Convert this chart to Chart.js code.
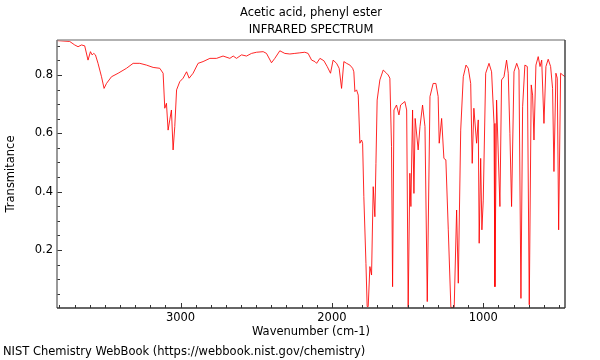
<!DOCTYPE html>
<html>
<head>
<meta charset="utf-8">
<script src="https://cdn.jsdelivr.net/npm/chart.js@4/dist/chart.umd.min.js"></script>
<style>
html,body{margin:0;padding:0;background:#fff;}
#c{display:block;}
</style>
</head>
<body>
<canvas id="c" width="600" height="360"></canvas>
<script>
const wavenumbers = [3816, 3732, 3699, 3677, 3654, 3633, 3611, 3595, 3584, 3573,
  3562, 3545, 3522, 3505, 3489, 3456, 3412, 3357, 3313, 3269,
  3225, 3181, 3137, 3115, 3104, 3093, 3082, 3071, 3060, 3049,
  3038, 3026, 3005, 2983, 2960, 2943, 2917, 2884, 2851, 2806,
  2762, 2719, 2674, 2652, 2630, 2597, 2564, 2531, 2498, 2454,
  2432, 2399, 2377, 2344, 2311, 2278, 2245, 2212, 2179, 2157,
  2134, 2112, 2101, 2079, 2053, 2031, 2009, 1992, 1969, 1952,
  1936, 1921, 1903, 1881, 1863, 1855, 1848, 1837, 1826, 1815,
  1804, 1797, 1789, 1775, 1767, 1760, 1749, 1738, 1727, 1716,
  1709, 1701, 1683, 1661, 1639, 1628, 1617, 1606, 1599, 1590,
  1573, 1557, 1546, 1518, 1506, 1496, 1485, 1478, 1467, 1458,
  1450, 1430, 1418, 1401, 1385, 1370, 1352, 1331, 1313, 1298,
  1291, 1275, 1260, 1247, 1231, 1214, 1192, 1176, 1165, 1149,
  1132, 1114, 1099, 1083, 1073, 1062, 1044, 1033, 1027, 1017,
  1009, 1000, 984, 962, 945, 929, 923, 912, 890, 879,
  863, 846, 835, 824, 813, 797, 779, 764, 751, 740,
  725, 709, 696, 683, 674, 665, 652, 637, 625, 614,
  599, 586, 571, 555, 542, 533, 520, 511, 502, 489,
  475, 460];
const transmittance = [0.918, 0.915, 0.903, 0.897, 0.903, 0.900, 0.851, 0.880, 0.869, 0.874,
  0.869, 0.840, 0.794, 0.754, 0.771, 0.794, 0.806, 0.823, 0.840, 0.840,
  0.834, 0.826, 0.823, 0.806, 0.686, 0.703, 0.611, 0.646, 0.680, 0.543,
  0.623, 0.749, 0.777, 0.789, 0.811, 0.789, 0.806, 0.840, 0.846, 0.857,
  0.857, 0.865, 0.857, 0.865, 0.857, 0.869, 0.865, 0.874, 0.878, 0.880,
  0.874, 0.842, 0.857, 0.883, 0.874, 0.872, 0.874, 0.876, 0.878, 0.874,
  0.851, 0.846, 0.840, 0.857, 0.849, 0.829, 0.806, 0.851, 0.840, 0.823,
  0.754, 0.846, 0.840, 0.834, 0.823, 0.811, 0.743, 0.749, 0.731, 0.566,
  0.577, 0.566, 0.383, 0.154, 0.006, 0.006, 0.143, 0.114, 0.417, 0.314,
  0.497, 0.714, 0.783, 0.817, 0.806, 0.800, 0.789, 0.554, 0.074, 0.680,
  0.697, 0.663, 0.697, 0.709, 0.680, 0.003, 0.463, 0.349, 0.680, 0.394,
  0.651, 0.543, 0.623, 0.697, 0.623, 0.023, 0.726, 0.771, 0.771, 0.726,
  0.566, 0.651, 0.514, 0.509, 0.269, 0.003, 0.003, 0.337, 0.086, 0.611,
  0.794, 0.834, 0.823, 0.771, 0.497, 0.686, 0.566, 0.646, 0.223, 0.514,
  0.269, 0.371, 0.806, 0.840, 0.811, 0.634, 0.074, 0.714, 0.349, 0.783,
  0.794, 0.851, 0.806, 0.600, 0.349, 0.811, 0.840, 0.817, 0.034, 0.691,
  0.834, 0.829, 0.012, 0.766, 0.731, 0.577, 0.834, 0.863, 0.829, 0.851,
  0.634, 0.829, 0.854, 0.829, 0.754, 0.469, 0.806, 0.789, 0.269, 0.806,
  0.800, 0.794];
const xTickLabels = [1000, 2000, 3000];
const yTickLabels = [0.2, 0.4, 0.6, 0.8];
const titleLines = ["Acetic acid, phenyl ester", "INFRARED SPECTRUM"];
const xAxisTitle = "Wavenumber (cm-1)";
const yAxisTitle = "Transmitance";
const footerText = "NIST Chemistry WebBook (https://webbook.nist.gov/chemistry)";

if (wavenumbers.length !== transmittance.length) throw new Error("length mismatch " + wavenumbers.length + " " + transmittance.length);

const points = wavenumbers.map((w, i) => ({x: w, y: transmittance[i]}));
const FONT = '"DejaVu Sans", sans-serif';
const FS = 11.5;

const framePlugin = {
  id: 'frame',
  afterDraw(chart) {
    const ctx = chart.ctx;
    const a = chart.chartArea;
    const xs = chart.scales.x, ys = chart.scales.y;
    ctx.save();
    // inward ticks
    ctx.strokeStyle = '#333';
    ctx.lineWidth = 1;
    xs.ticks.forEach(t => {
      const px = Math.round(xs.getPixelForValue(t.value)) + 0.5;
      const major = xTickLabels.includes(Math.round(t.value));
      const len = major ? 5 : 3;
      ctx.beginPath(); ctx.moveTo(px, a.bottom); ctx.lineTo(px, a.bottom - len); ctx.stroke();
    });
    ys.ticks.forEach(t => {
      const py = Math.round(ys.getPixelForValue(t.value)) + 0.5;
      const major = yTickLabels.some(v => Math.abs(v - t.value) < 1e-6);
      const len = major ? 5 : 3;
      ctx.beginPath(); ctx.moveTo(a.left, py); ctx.lineTo(a.left + len, py); ctx.stroke();
    });
    // frame
    ctx.lineWidth = 1.5;
    ctx.strokeStyle = '#999';
    ctx.beginPath(); ctx.moveTo(a.left, a.top); ctx.lineTo(a.right, a.top); ctx.stroke();
    ctx.strokeStyle = '#777';
    ctx.beginPath(); ctx.moveTo(a.left, a.top); ctx.lineTo(a.left, a.bottom); ctx.stroke();
    ctx.strokeStyle = '#444';
    ctx.beginPath(); ctx.moveTo(a.right, a.top); ctx.lineTo(a.right, a.bottom); ctx.stroke();
    ctx.strokeStyle = '#333';
    ctx.beginPath(); ctx.moveTo(a.left, a.bottom); ctx.lineTo(a.right, a.bottom); ctx.stroke();
    // titles
    ctx.fillStyle = '#000';
    ctx.font = FS + 'px ' + FONT;
    ctx.textAlign = 'center';
    ctx.textBaseline = 'middle';
    const cx = (a.left + a.right) / 2;
    ctx.fillText(titleLines[0], cx, 13.5);
    ctx.fillText(titleLines[1], cx, 30);
    ctx.textAlign = 'left';
    ctx.fillText(footerText, 3, 352);
    ctx.restore();
  }
};

new Chart(document.getElementById('c'), {
  type: 'line',
  data: {
    datasets: [{
      data: points,
      borderColor: 'rgba(255,0,0,0.85)',
      borderWidth: 1,
      pointRadius: 0,
      tension: 0,
      fill: false
    }]
  },
  options: {
    responsive: false,
    animation: false,
    devicePixelRatio: 1,
    layout: {padding: {top: 40, right: 35, left: 0, bottom: 0}},
    plugins: {legend: {display: false}, tooltip: {enabled: false}, title: {display: false}},
    scales: {
      x: {
        type: 'linear',
        reverse: true,
        min: 460,
        max: 3816,
        afterFit: s => { s.height = 52; },
        grid: {display: false, drawTicks: false},
        border: {display: false},
        ticks: {
          stepSize: 100,
          includeBounds: false,
          autoSkip: false,
          maxRotation: 0,
          padding: 3,
          color: '#000',
          font: {family: FONT, size: FS},
          callback: v => xTickLabels.includes(Math.round(v)) ? String(Math.round(v)) : ''
        },
        title: {display: true, text: xAxisTitle, color: '#000', font: {family: FONT, size: FS}, padding: {top: 0, bottom: 21}}
      },
      y: {
        min: 0.001,
        max: 0.92,
        afterFit: s => { s.width = 57; },
        grid: {display: false, drawTicks: false},
        border: {display: false},
        ticks: {
          stepSize: 0.05,
          includeBounds: false,
          autoSkip: false,
          padding: 4,
          color: '#000',
          font: {family: FONT, size: FS},
          callback: v => {
            const m = yTickLabels.find(t => Math.abs(t - v) < 1e-6);
            return m !== undefined ? m.toFixed(1) : '';
          }
        },
        title: {display: true, text: yAxisTitle, color: '#000', font: {family: FONT, size: FS}, padding: {top: 4, bottom: 0}}
      }
    }
  },
  plugins: [framePlugin]
});
</script>
</body>
</html>
